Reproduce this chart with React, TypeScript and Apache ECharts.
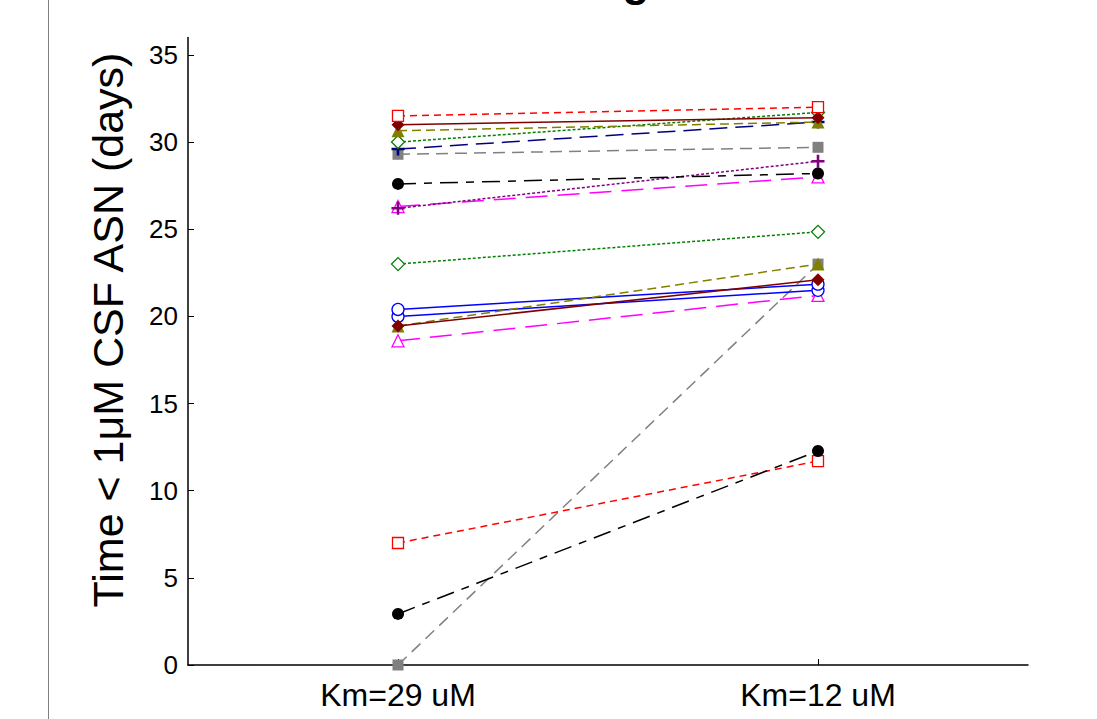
import React, { useEffect, useRef } from "react";
import * as echarts from "echarts";

const categories = ["Km=29 uM", "Km=12 uM"];
const yTicks = [0, 5, 10, 15, 20, 25, 30, 35];

const redA = [31.5, 32.0];
const redB = [7.0, 11.7];
const grayA = [29.3, 29.7];
const grayB = [0, 23.0];
const maroonA = [31.0, 31.4];
const maroonB = [19.45, 22.1];
const oliveA = [30.65, 31.15];
const oliveB = [19.45, 23.0];
const greenA = [30.0, 31.7];
const greenB = [23.0, 24.85];
const navyA = [29.6, 31.15];
const blackA = [27.6, 28.2];
const blackB = [2.93, 12.28];
const magentaA = [26.3, 28.0];
const magentaB = [18.6, 21.2];
const purpleA = [26.2, 28.9];
const blueA = [20.4, 21.85];
const blueB = [20.0, 21.5];

const PLUS = "path://M4,0 L6,0 L6,4 L10,4 L10,6 L6,6 L6,10 L4,10 L4,6 L0,6 L0,4 L4,4 Z";

type Sty = { color: string; dash: any; symbol: string; open: boolean; size: number };

const styles: Record<string, Sty> = {
  red: { color: "#FF0000", dash: [7, 5], symbol: "rect", open: true, size: 11 },
  gray: { color: "#808080", dash: [12, 7], symbol: "rect", open: false, size: 11 },
  maroon: { color: "#800000", dash: "solid", symbol: "diamond", open: false, size: 13 },
  olive: { color: "#808000", dash: [9, 5], symbol: "triangle", open: false, size: 13 },
  green: { color: "#008000", dash: [3, 2], symbol: "diamond", open: true, size: 13 },
  navy: { color: "#000080", dash: [18, 8], symbol: PLUS, open: false, size: 13 },
  black: { color: "#000000", dash: [18, 8, 8, 8], symbol: "circle", open: false, size: 12 },
  magenta: { color: "#FF00FF", dash: [22, 10], symbol: "triangle", open: true, size: 12 },
  purple: { color: "#800080", dash: [3, 2], symbol: PLUS, open: false, size: 13 },
  blue: { color: "#0000FF", dash: "solid", symbol: "circle", open: true, size: 12 },
};

const seriesDefs: [string, number[]][] = [
  ["gray", grayB],
  ["red", redB],
  ["black", blackB],
  ["magenta", magentaB],
  ["blue", blueB],
  ["blue", blueA],
  ["olive", oliveB],
  ["maroon", maroonB],
  ["green", greenB],
  ["magenta", magentaA],
  ["purple", purpleA],
  ["black", blackA],
  ["gray", grayA],
  ["navy", navyA],
  ["green", greenA],
  ["olive", oliveA],
  ["maroon", maroonA],
  ["red", redA],
];

export default function App() {
  const ref = useRef<HTMLDivElement>(null);
  useEffect(() => {
    if (!ref.current) return;
    const chart = echarts.init(ref.current, null, { renderer: "svg" });
    const series = seriesDefs.map(([key, data], i) => {
      const s = styles[key];
      return {
        type: "line",
        name: key + i,
        data,
        symbol: s.symbol,
        symbolSize: s.size,
        showAllSymbol: true,
        lineStyle: { color: s.color, width: 1.5, type: s.dash },
        itemStyle: s.open
          ? { color: "#ffffff", borderColor: s.color, borderWidth: 1.3 }
          : { color: s.color, borderColor: s.color, borderWidth: 0 },
        z: 2 + i * 0.01,
      };
    });
    chart.setOption({
      animation: false,
      backgroundColor: "#ffffff",
      grid: { left: 188, right: 69, top: 37.5, bottom: 54, containLabel: false },
      xAxis: {
        type: "category",
        data: categories,
        boundaryGap: true,
        axisLine: { lineStyle: { color: "#000", width: 1.5 } },
        axisTick: { show: true, inside: true, alignWithLabel: true, length: 6, lineStyle: { color: "#000" } },
        axisLabel: { color: "#000", fontSize: 32, fontFamily: "Liberation Sans, Arial", margin: 14 },
        splitLine: { show: false },
      },
      yAxis: {
        type: "value",
        min: 0,
        max: 36,
        interval: 5,
        axisLine: { show: true, lineStyle: { color: "#000", width: 1.5 } },
        axisTick: { show: true, inside: true, length: 6, customValues: yTicks, lineStyle: { color: "#000" } },
        axisLabel: { color: "#000", fontSize: 26, fontFamily: "Liberation Sans, Arial", margin: 10, customValues: yTicks },
        splitLine: { show: false },
      },
      graphic: [
        {
          type: "line",
          shape: { x1: 48.5, y1: 0, x2: 48.5, y2: 719 },
          style: { stroke: "#808080", lineWidth: 1 },
        },
        {
          type: "text",
          x: 108,
          y: 330,
          rotation: Math.PI / 2,
          style: {
            text: "Time < 1μM CSF ASN (days)",
            fontSize: 43,
            fontFamily: "Liberation Sans, Arial",
            fill: "#000",
            align: "center",
            verticalAlign: "middle",
          },
        },
        {
          type: "text",
          x: 636,
          y: -42,
          style: {
            text: "g",
            fontSize: 44,
            fontWeight: "bold",
            fontFamily: "Liberation Sans, Arial",
            fill: "#000",
            align: "center",
            verticalAlign: "top",
          },
        },
      ],
      series,
    });
    return () => chart.dispose();
  }, []);
  return (
    <div
      ref={ref}
      style={{ position: "absolute", left: 0, top: 0, width: 1097, height: 719, background: "#fff" }}
    />
  );
}
